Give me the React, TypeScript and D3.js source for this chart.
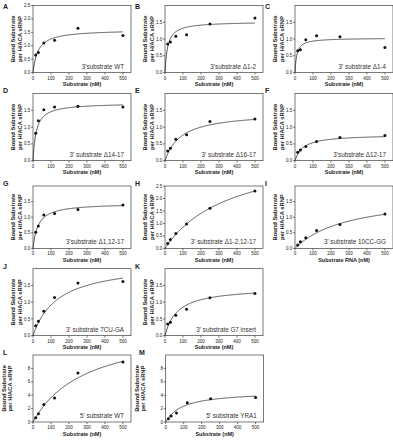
import React from 'react';
import * as d3 from 'd3';

// Substrate concentrations (nM) used in every titration
const substrateNM = [15, 30, 60, 120, 250, 500];

// Bound substrate per H/ACA sRNP for each construct
const boundA = [0.65, 0.75, 1.1, 1.2, 1.65, 1.38];
const boundB = [0.85, 0.91, 1.08, 1.13, 1.45, 1.63];
const boundC = [0.65, 0.68, 0.98, 1.1, 1.07, 0.75];
const boundD = [0.82, 1.19, 1.52, 1.6, 1.62, 1.6];
const boundE = [0.29, 0.37, 0.64, 0.77, 1.17, 1.24];
const boundF = [0.25, 0.32, 0.42, 0.57, 0.69, 0.75];
const boundG = [0.52, 0.72, 1.07, 1.12, 1.25, 1.39];
const boundH = [0.2, 0.36, 0.6, 0.98, 1.61, 2.3];
const boundI = [0.11, 0.21, 0.34, 0.57, 0.77, 1.1];
const boundJ = [0.3, 0.43, 0.73, 1.14, 1.57, 1.62];
const boundK = [0.35, 0.4, 0.61, 0.79, 1.13, 1.26];
const boundL = [0.65, 1.25, 2.6, 3.6, 7.3, 8.95];
const boundM = [0.5, 0.9, 1.33, 2.86, 3.46, 3.65];

// Hyperbolic binding fits: B = Bmax * S / (Kd + S)
const fitBmax = [1.6, 1.52, 1.03, 1.72, 1.45, 0.78, 1.45, 4.0, 1.75, 2.2, 1.45, 14.5, 4.6];
const fitKd = [28, 15, 10, 18, 90, 45, 28, 370, 300, 140, 70, 300, 95];

const panelLetters = ['A', 'B', 'C', 'D', 'E', 'F', 'G', 'H', 'I', 'J', 'K', 'L', 'M'];
const panelLabels = [
  "3'substrate WT",
  "3'substrate \u03941-2",
  "3' substrate \u03941-4",
  "3' substrate \u039414-17",
  "3' substrate \u039416-17",
  "3'substrate \u039412-17",
  "3'substrate \u03941,12-17",
  "3' substrate \u03941-2,12-17",
  "3' substrate 10CC-GG",
  "3' substrate 7CU-GA",
  "3' substrate G7 insert",
  "5' substrate WT",
  "5' substrate YRA1",
];
const xTitles = [
  'Substrate (nM)', 'Substrate (nM)', 'Substrate (nM)',
  'Substrate (nM)', 'Substrate (nM)', 'Substrate (nM)',
  'Substrate (nM)', 'Substrate (nM)', 'Substrate RNA (nM)',
  'Substrate (nM)', 'Substrate (nM)',
  'Substrate (nM)', 'Substrate (nM)',
];
const yMax = [2.5, 2, 2, 2, 2, 2, 2, 2.5, 2, 2, 2, 10, 10];
const yTickMax = [2.5, 1.5, 1.5, 1.5, 1.5, 1.5, 1.5, 2.5, 1.5, 1.5, 1.5, 8, 8];
const yTickStep = [0.5, 0.5, 0.5, 0.5, 0.5, 0.5, 0.5, 0.5, 0.5, 0.5, 0.5, 2, 2];
const xTicks = [0, 100, 200, 300, 400, 500];

const boundSeries = [boundA, boundB, boundC, boundD, boundE, boundF, boundG, boundH, boundI, boundJ, boundK, boundL, boundM];

// grid placement of each panel
const panelRow = [0, 0, 0, 1, 1, 1, 2, 2, 2, 3, 3, 4, 4];
const panelCol = [0, 1, 2, 0, 1, 2, 0, 1, 2, 0, 1, 0, 1];

// grid geometry
const COL_X = [33, 165, 295];
const ROW_TOP = [5.5, 93.5, 186, 268.7, 355];
const ROW_BOTTOM = [72.5, 160.7, 248.4, 335.7, 422];
const LETTER_Y = [9, 93, 186, 269, 355];
const PLOT_W = 98;
const FONT = "'Liberation Sans', Arial, sans-serif";

function Panel({ i }: { i: number }) {
  const row = panelRow[i];
  const col = panelCol[i];
  const lastRow = row === 4;
  const x0 = COL_X[col] + (lastRow && col === 1 ? 0.7 : 0);
  const top = ROW_TOP[row];
  const bottom = ROW_BOTTOM[row];
  const x = d3.scaleLinear().domain([0, 545]).range([x0, x0 + PLOT_W]);
  const y = d3.scaleLinear().domain([0, yMax[i]]).range([bottom, top]);
  const yTicks = d3.range(0, yTickMax[i] + 1e-9, yTickStep[i]);
  const fmt = yTickStep[i] < 1 ? d3.format('.1f') : d3.format('d');
  const curveX = d3.range(0, 500.01, 2.5);
  const line = d3
    .line<number>()
    .x((s) => x(s))
    .y((s) => y((fitBmax[i] * s) / (fitKd[i] + s)));
  const titleOff = lastRow ? [27, 21] : [18, 11.5];
  const midY = (top + bottom) / 2;
  const letterX = lastRow && col === 1 ? 139 : x0 - 30;
  const stroke = '#222';

  return (
    <g>
      <text x={letterX} y={LETTER_Y[row]} fontFamily={FONT} fontWeight="bold" fontSize={7} fill="#222">
        {panelLetters[i]}
      </text>
      <rect x={x0} y={top} width={PLOT_W} height={bottom - top} fill="none" stroke={stroke} strokeWidth={0.6} />
      {yTicks.map((t) => (
        <g key={t}>
          <line x1={x0 - 2} x2={x0} y1={y(t)} y2={y(t)} stroke={stroke} strokeWidth={0.6} />
          <text x={x0 - 2.8} y={y(t)} dy="0.35em" textAnchor="end" fontFamily={FONT} fontSize={4.5} fill="#222">
            {fmt(t)}
          </text>
        </g>
      ))}
      {xTicks.map((t) => (
        <g key={t}>
          <line x1={x(t)} x2={x(t)} y1={bottom} y2={bottom + 2} stroke={stroke} strokeWidth={0.6} />
          <text x={x(t)} y={bottom + 7} textAnchor="middle" fontFamily={FONT} fontSize={4.5} fill="#222">
            {t}
          </text>
        </g>
      ))}
      <text x={x0 + PLOT_W / 2} y={bottom + 13.5} textAnchor="middle" fontFamily={FONT} fontWeight="bold" fontSize={5.5} fill="#222">
        {xTitles[i]}
      </text>
      <g fontFamily={FONT} fontWeight="bold" fontSize={5.8} fill="#222" textAnchor="middle">
        <text transform={`translate(${x0 - titleOff[0]},${midY}) rotate(-90)`}>Bound Substrate</text>
        <text transform={`translate(${x0 - titleOff[1]},${midY}) rotate(-90)`}>per H/ACA sRNP</text>
      </g>
      <path d={line(curveX) || ''} fill="none" stroke="#111" strokeWidth={0.7} />
      {boundSeries[i].map((v, k) => (
        <circle key={k} cx={x(substrateNM[k])} cy={y(v)} r={1.5} fill="#111" />
      ))}
      <text x={x0 + PLOT_W - 7} y={bottom - 4} textAnchor="end" fontFamily={FONT} fontSize={6.3} fill="#333">
        {panelLabels[i]}
      </text>
    </g>
  );
}

export default function App() {
  return (
    <svg width={393} height={440} style={{ position: 'absolute', left: 0, top: 0, background: '#fff' }}>
      <rect width={393} height={440} fill="#fff" />
      {panelLetters.map((_, i) => (
        <Panel key={i} i={i} />
      ))}
    </svg>
  );
}
